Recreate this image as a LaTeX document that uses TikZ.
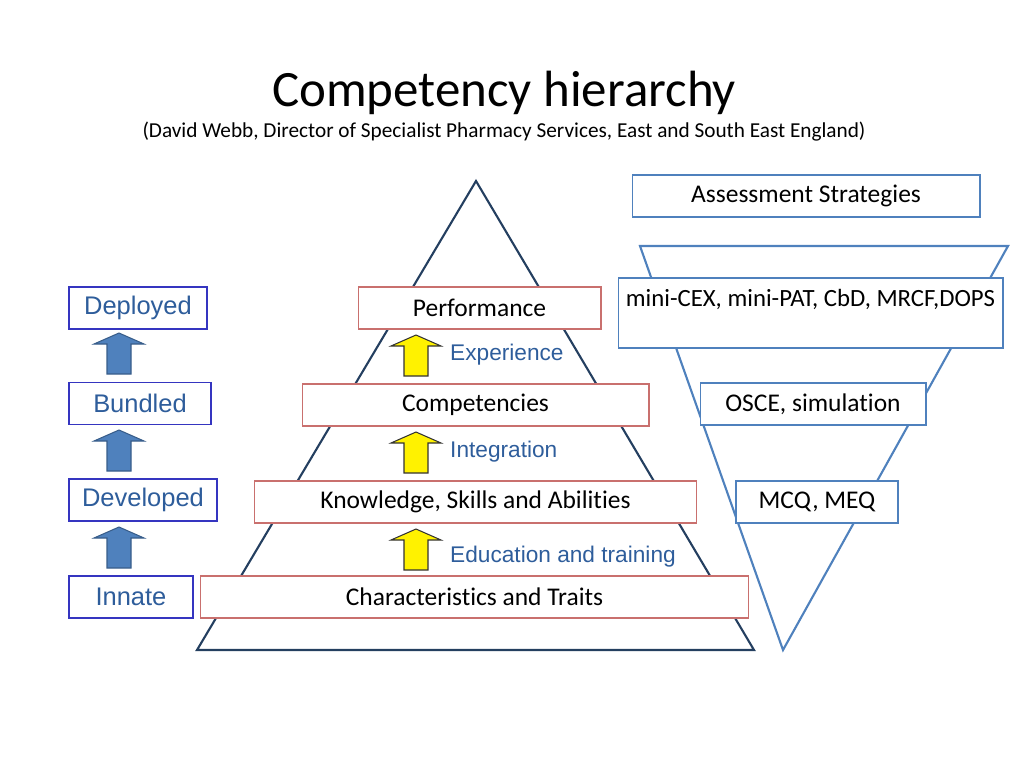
\documentclass[tikz,border=0pt]{standalone}
\usepackage{fontspec}
\setmainfont{Carlito}[Ligatures=NoCommon]
\newfontfamily\arialfont{Liberation Sans}
\usetikzlibrary{positioning}
\definecolor{pyrnavy}{HTML}{243F60}
\definecolor{invblue}{HTML}{4F81BD}
\definecolor{stageblue}{HTML}{3535C0}
\definecolor{labelblue}{HTML}{2E5D9B}
\definecolor{levelred}{HTML}{C9706E}
\definecolor{arrowedge}{HTML}{385D8A}

\begin{document}
\begin{tikzpicture}[x=0.02cm, y=-0.02cm,
  level/.style={draw=levelred, fill=white, line width=0.6pt, minimum height=0.84cm,
                font=\fontsize{14.5}{17}\selectfont},
  stage/.style={draw=stageblue, fill=white, line width=0.6pt, minimum height=0.84cm,
                text=labelblue, font=\arialfont\fontsize{14.5}{17}\selectfont},
  assess/.style={draw=invblue, fill=white, line width=0.6pt, minimum height=0.84cm,
                 font=\fontsize{14.5}{17}\selectfont},
  note/.style={anchor=west, text=labelblue, font=\arialfont\fontsize{12.9}{15}\selectfont},
  pyramid/.style={draw=pyrnavy, line width=1.2pt, line join=miter},
  funnel/.style={draw=invblue, line width=1.2pt},
  yarrow/.style={draw=black!80, fill=yellow, line width=0.6pt},
  barrow/.style={draw=arrowedge, fill=invblue, line width=0.6pt},
]
  \useasboundingbox (0,0) rectangle (1024,768);

  % Title
  \node[font=\fontsize{29}{34}\selectfont] (title) at (504,93) {Competency hierarchy};
  \node[font=\fontsize{12.1}{14}\selectfont] (source) at (504,132)
    {(David Webb, Director of Specialist Pharmacy Services, East and South East England)};

  % Competency pyramid and its levels
  \draw[pyramid] (476,181) -- (754,650) -- (197,650) -- cycle;
  \node[level, minimum width=4.86cm] (perf) at (479.5,308) {Performance};
  \node[level, minimum width=6.94cm] (comp) at (475.5,405) {Competencies};
  \node[level, minimum width=8.86cm] (ksa) at (475.5,502) {Knowledge, Skills and Abilities};
  \node[level, minimum width=10.98cm] (traits) at (474.5,597) {Characteristics and Traits};

  \foreach \t in {335,432,529}
    \draw[yarrow] (416,\t) -- ++(25,11) -- ++(-13,0) -- ++(0,30) -- ++(-24,0)
      -- ++(0,-30) -- ++(-13,0) -- cycle;
  \node[note] (exper) at (444,355) {Experience};
  \node[note] (integ) at (444,452) {Integration};
  \node[note] (educ) at (444,557) {Education and training};

  % Stages on the left
  \node[stage, minimum width=2.76cm] (deployed) at (138,308) {Deployed};
  \node[stage, minimum width=2.84cm] (bundled) at (140,403.5) {Bundled};
  \node[stage, minimum width=2.96cm] (developed) at (143,500) {Developed};
  \node[stage, minimum width=2.48cm] (innate) at (131,597) {Innate};
  \foreach \t in {333,430,527}
    \draw[barrow] (119,\t) -- ++(25,11) -- ++(-13,0) -- ++(0,30) -- ++(-24,0)
      -- ++(0,-30) -- ++(-13,0) -- cycle;

  % Assessment funnel
  \node[assess, minimum width=6.96cm] (strat) at (806,196) {Assessment Strategies};
  \draw[funnel] (640,246) -- (1008,246) -- (783,650) -- cycle;
  \node[assess, minimum width=7.7cm, minimum height=1.4cm] (wba) at (810.5,313) {};
  \node[font=\fontsize{14.1}{17}\selectfont, below=0.12cm of wba.north] (wbatext)
    {mini-CEX, mini-PAT, CbD, MRCF,DOPS};
  \node[assess, minimum width=4.52cm] (osce) at (813,404) {OSCE, simulation};
  \node[assess, minimum width=3.24cm] (mcq) at (817,502) {MCQ, MEQ};
\end{tikzpicture}
\end{document}
